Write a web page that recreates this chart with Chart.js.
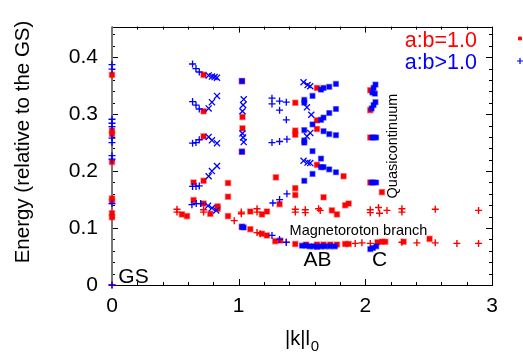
<!DOCTYPE html>
<html>
<head>
<meta charset="utf-8">
<script src="https://cdn.jsdelivr.net/npm/chart.js@4.4.0/dist/chart.umd.min.js"></script>
<style>
  html, body { margin: 0; padding: 0; background: #fff; }
  #wrap { width: 523px; height: 356px; }
</style>
</head>
<body>
<div id="wrap"><canvas id="chart" width="523" height="356"></canvas></div>
<script>
// ticks / legend
const xTicks = [0, 1, 2, 3];
const yTicks = [0, 0.1, 0.2, 0.3, 0.4];
const seriesNames = ['a:b=1.0', 'a:b>1.0'];

// a:b = 1.0 (red), [|k|l0, energy]
const redBlocks = [
  [0,0.369],[0,0.271],[0,0.265],[0,0.216],[0,0.152],[0,0.147],[0,0.126],[0,0.119],
  [0.723,0.369],[0.723,0.305],[0.723,0.261],[0.723,0.183],[0.644,0.180],[0.644,0.149],
  [0.723,0.143],[0.834,0.138],[0.834,0.134],[0.776,0.125],[0.552,0.124],[0.592,0.121],
  [0.916,0.179],[0.916,0.155],[0.916,0.121],
  [1.026,0.358],[1.030,0.295],[1.030,0.275],[1.026,0.234],[1.026,0.102],
  [1.092,0.129],[1.184,0.124],[1.223,0.129],[1.092,0.098],[1.184,0.090],[1.223,0.087],
  [1.294,0.189],[1.289,0.077],[1.329,0.078],[1.323,0.142],
  [1.447,0.320],[1.618,0.346],[1.618,0.289],[1.618,0.274],[1.447,0.271],[1.447,0.264],
  [1.618,0.211],[1.828,0.191],[1.447,0.170],[1.447,0.158],[1.670,0.154],
  [1.447,0.072],[1.533,0.071],[1.618,0.071],[1.670,0.071],[1.723,0.071],[1.776,0.071],
  [1.841,0.072],[1.868,0.072],
  [1.736,0.131],[1.776,0.124],[1.841,0.140],[1.868,0.143],
  [2.039,0.342],[2.039,0.307],[2.039,0.259],[2.039,0.180],[2.131,0.163],
  [2.096,0.075],[2.131,0.076],[2.157,0.076],[2.302,0.076],[2.507,0.081]
];
const redPlus = [
  [0,0],[0.513,0.133],[0.513,0.128],[0.723,0.132],[0.723,0.128],
  [0.965,0.113],[1.021,0.128],[1.021,0.125],[1.145,0.134],[1.145,0.128],
  [1.145,0.092],[1.170,0.090],[1.376,0.075],
  [1.447,0.133],[1.447,0.128],[1.526,0.132],[1.526,0.127],[1.631,0.134],[1.644,0.131],
  [2.039,0.132],[2.039,0.127],[2.104,0.136],[2.112,0.126],[2.171,0.131],
  [2.289,0.134],[2.289,0.128],[2.552,0.133],[2.894,0.131],
  [1.920,0.073],[1.973,0.074],[2.039,0.073],[2.289,0.075],[2.407,0.074],
  [2.552,0.074],[2.723,0.073],[2.894,0.073]
];

// a:b > 1.0 (blue)
const blueBlocks = [
  [1.026,0.358],[1.026,0.234],[1.026,0.102],[1.040,0.101],
  [1.650,0.343],[1.670,0.346],[1.715,0.348],[1.768,0.353],
  [1.518,0.325],[1.518,0.320],[1.583,0.332],[1.650,0.290],[1.670,0.294],[1.715,0.302],
  [1.768,0.309],[1.583,0.282],[1.670,0.270],[1.715,0.265],[1.768,0.263],[1.518,0.272],
  [1.518,0.254],[1.518,0.250],[1.583,0.235],[1.650,0.207],[1.670,0.207],[1.715,0.203],
  [1.768,0.198],[1.650,0.222],[1.583,0.195],[1.518,0.183],
  [2.055,0.338],[2.065,0.346],[2.080,0.352],[2.075,0.336],[2.050,0.310],[2.065,0.316],
  [2.080,0.321],[2.055,0.259],[2.070,0.259],[2.085,0.259],[2.050,0.180],[2.065,0.180],
  [2.085,0.180],[2.039,0.063],[2.060,0.065],[2.086,0.068],
  [1.500,0.069],[1.530,0.069],[1.560,0.068],[1.590,0.068],[1.620,0.067],[1.650,0.068],
  [1.680,0.068],[1.720,0.068],[1.760,0.068]
];
const bluePlus = [
  [0,0.387],[0,0.379],[0,0.291],[0,0.284],[0,0.278],[0,0.258],[0,0.250],[0,0.227],
  [0,0.221],[0,0.143],[0,0],
  [0.636,0.388],[0.663,0.380],[0.689,0.374],
  [0.636,0.322],[0.663,0.316],[0.689,0.309],
  [0.636,0.249],[0.663,0.250],[0.689,0.255],
  [0.636,0.173],[0.663,0.173],[0.689,0.174],
  [0.631,0.141],[0.665,0.143],[0.700,0.143],
  [1.263,0.328],[1.263,0.318],[1.323,0.323],[1.376,0.321],[1.323,0.307],[1.376,0.290],
  [1.263,0.250],[1.323,0.252],[1.381,0.256],
  [1.270,0.144],[1.323,0.150],[1.381,0.160],
  [1.263,0.087],[1.323,0.080],[1.376,0.075]
];
const blueCross = [
  [0.763,0.368],[0.789,0.366],[0.810,0.365],[0.829,0.364],
  [0.763,0.310],[0.789,0.321],[0.829,0.332],
  [0.763,0.260],[0.789,0.254],[0.829,0.249],
  [0.763,0.191],[0.789,0.200],[0.829,0.209],
  [0.758,0.139],[0.789,0.135],[0.823,0.131],
  [1.040,0.326],[1.035,0.316],[1.030,0.305],[1.030,0.266],[1.035,0.259],[1.040,0.251],
  [1.512,0.356],[1.544,0.351],[1.565,0.349],[1.539,0.312],[1.573,0.299],
  [1.565,0.267],[1.539,0.261],[1.512,0.218],[1.544,0.215],[1.565,0.214]
];

// text placed in data coordinates
const notes = [
  { text: 'GS', k: 0.05, e: 0.003, size: 21 },
  { text: 'AB', k: 1.512, e: 0.033, size: 21 },
  { text: 'C', k: 2.052, e: 0.033, size: 21 },
  { text: 'Magnetoroton branch', k: 1.402, e: 0.087, size: 14.5 },
  { text: 'Quasicontinuum', k: 2.252, e: 0.152, size: 14.5, vertical: true }
];

const RED = '#ff0000', BLUE = '#0000ff';
const FONT = '"Liberation Sans", Arial, Helvetica, sans-serif';
const pts = a => a.map(p => ({ x: p[0], y: p[1] }));

function set(data, style, color, edge, r, w) {
  return {
    data: pts(data), pointStyle: style, pointRadius: r, borderWidth: w,
    borderColor: edge, backgroundColor: color, showLine: false, clip: false
  };
}

const frame = {
  id: 'frame',
  beforeDatasetsDraw(chart) {
    const { ctx, chartArea: a, scales: { x, y } } = chart;
    ctx.save();
    ctx.strokeStyle = '#000';
    ctx.lineWidth = 1;
    ctx.beginPath();
    for (let i = 0; i <= 15; i++) {
      const px = Math.round(x.getPixelForValue(i * 0.2)) + 0.5;
      const len = i % 5 === 0 ? 6 : 3;
      ctx.moveTo(px, a.bottom); ctx.lineTo(px, a.bottom - len);
      ctx.moveTo(px, a.top); ctx.lineTo(px, a.top + len);
    }
    for (let i = 0; i <= 22; i++) {
      const py = Math.round(y.getPixelForValue(i * 0.02)) + 0.5;
      const len = i % 5 === 0 ? 6 : 3;
      ctx.moveTo(a.left, py); ctx.lineTo(a.left + len, py);
      ctx.moveTo(a.right, py); ctx.lineTo(a.right - len, py);
    }
    ctx.stroke();
    ctx.strokeRect(Math.round(a.left) + 0.5, Math.round(a.top) + 0.5,
      Math.round(a.right - a.left), Math.round(a.bottom - a.top));
    ctx.strokeStyle = '#777';
    ctx.lineWidth = 2;
    ctx.beginPath();
    ctx.moveTo(a.left, a.top); ctx.lineTo(a.left, a.bottom);
    ctx.stroke();
    ctx.restore();
  },
  afterDraw(chart) {
    const { ctx, scales: { x, y } } = chart;
    ctx.save();
    ctx.fillStyle = '#000';
    notes.forEach(n => {
      ctx.font = n.size + 'px ' + FONT;
      const px = x.getPixelForValue(n.k), py = y.getPixelForValue(n.e);
      ctx.textAlign = 'left';
      ctx.textBaseline = 'alphabetic';
      if (n.vertical) {
        ctx.save();
        ctx.translate(px, py);
        ctx.rotate(-Math.PI / 2);
        ctx.fillText(n.text, 0, 0);
        ctx.restore();
      } else {
        ctx.fillText(n.text, px, py);
      }
    });

    // axis titles
    ctx.font = '20.5px ' + FONT;
    ctx.save();
    ctx.translate(23, 142);
    ctx.rotate(-Math.PI / 2);
    ctx.textAlign = 'center';
    ctx.textBaseline = 'middle';
    ctx.fillText('Energy (relative to the GS)', 0, 0);
    ctx.restore();
    ctx.textAlign = 'left';
    ctx.textBaseline = 'alphabetic';
    ctx.font = '20px ' + FONT;
    ctx.fillText('|k|l', 285, 345);
    const w = ctx.measureText('|k|l').width;
    ctx.font = '15px ' + FONT;
    ctx.fillText('0', 285 + w + 1, 351);

    // legend
    ctx.font = '21.5px ' + FONT;
    ctx.textAlign = 'right';
    ctx.fillStyle = RED;
    ctx.fillText(seriesNames[0], 477, 46.5);
    ctx.fillStyle = BLUE;
    ctx.fillText(seriesNames[1], 477, 68.5);
    ctx.fillStyle = RED; ctx.strokeStyle = RED; ctx.lineWidth = 1;
    Chart.helpers.drawPoint(ctx, { pointStyle: 'rect', radius: 2, borderWidth: 1 }, 520, 38.5);
    ctx.strokeStyle = BLUE; ctx.lineWidth = 1.2;
    Chart.helpers.drawPoint(ctx, { pointStyle: 'cross', radius: 3, borderWidth: 1.2 }, 520, 61);
    ctx.restore();
  }
};

new Chart(document.getElementById('chart'), {
  type: 'scatter',
  data: {
    datasets: [
      set(blueBlocks, 'rect', BLUE, 'rgba(0,0,255,0.45)', 3.4, 1.4),
      set(bluePlus, 'cross', BLUE, BLUE, 3.5, 1.3),
      set(blueCross, 'crossRot', BLUE, BLUE, 4.3, 1.3),
      set(redPlus, 'cross', RED, RED, 3.5, 1.4),
      set(redBlocks, 'rect', RED, 'rgba(255,0,0,0.4)', 3.6, 1.5)
    ]
  },
  options: {
    responsive: false,
    animation: false,
    events: [],
    layout: { padding: { top: 7, right: 31, left: 0, bottom: 0 } },
    plugins: { legend: { display: false }, tooltip: { enabled: false } },
    scales: {
      x: {
        type: 'linear', min: 0, max: 3,
        afterFit: s => { s.height = 71; },
        afterBuildTicks: s => { s.ticks = xTicks.map(v => ({ value: v })); },
        grid: { display: false, drawTicks: false },
        border: { display: false },
        ticks: { padding: 9, color: '#000', font: { family: FONT, size: 21 }, callback: v => String(v) }
      },
      y: {
        type: 'linear', min: 0, max: 0.4537,
        afterFit: s => { s.width = 112; },
        afterBuildTicks: s => { s.ticks = yTicks.map(v => ({ value: v })); },
        grid: { display: false, drawTicks: false },
        border: { display: false },
        ticks: { padding: 14, color: '#000', font: { family: FONT, size: 21 },
          callback: v => (v === 0 ? '0' : v.toFixed(1)) }
      }
    }
  },
  plugins: [frame]
});
</script>
</body>
</html>
